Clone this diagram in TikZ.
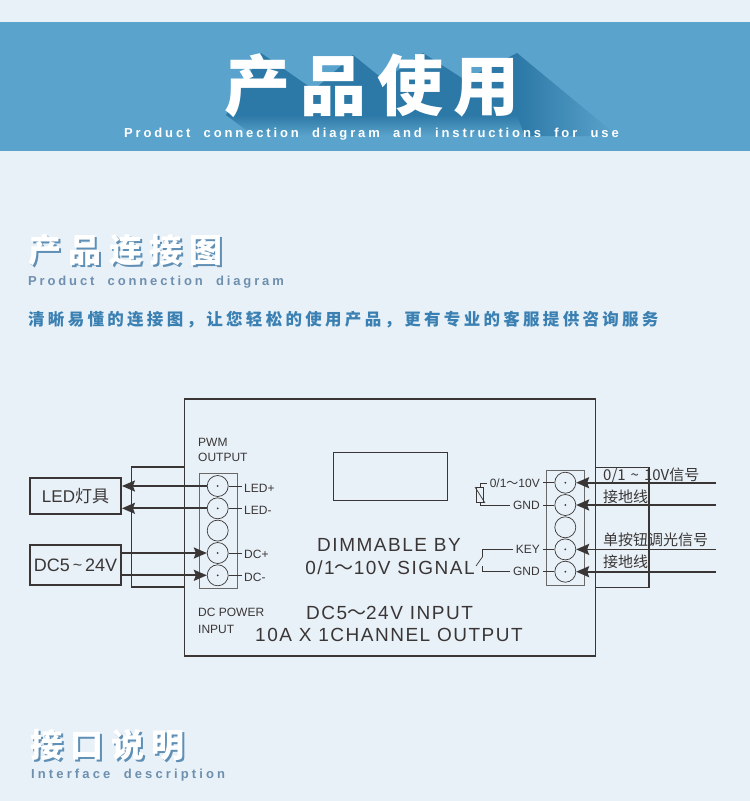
\documentclass[tikz,border=0pt]{standalone}
\usepackage{fontspec}
\setmainfont{Liberation Sans}
\newfontfamily\cjk{Noto Sans CJK SC}
\newfontfamily\spaced[LetterSpace=22,WordSpace=2.05]{Liberation Sans}
\newfontfamily\spacedwide[LetterSpace=24,WordSpace=2]{Liberation Sans}
\usetikzlibrary{arrows.meta}
\definecolor{pagebg}{HTML}{E8F1F8}
\definecolor{bandblue}{HTML}{5AA3CC}
\definecolor{shadeblue}{HTML}{2C78A6}
\definecolor{headshadow}{HTML}{5F8FB5}
\definecolor{greyblue}{HTML}{6E8FAE}
\definecolor{lineblue}{HTML}{3A80B2}
\definecolor{ink}{HTML}{3A3636}
\newcommand{\sz}[1]{\fontsize{#1}{#1}\selectfont}
\tikzset{
  frame/.style={draw=ink,line width=1.9pt,inner sep=0pt},
  block/.style={draw=ink!75,line width=0.9pt,inner sep=0pt},
  term/.style={draw=ink,line width=0.7pt,circle,inner sep=0pt,minimum size=21pt},
  wire/.style={draw=ink,line width=1.7pt,->},
  lead/.style={draw=ink,line width=0.7pt},
  small/.style={text=ink,inner sep=2.5pt,font=\sz{12}},
  big/.style={text=ink,inner sep=0pt,font=\sz{19}\addfontfeature{LetterSpace=8}},
  sign/.style={text=ink,inner sep=0pt,font=\cjk\sz{15}},
  head/.style={inner sep=0pt,anchor=west,font=\cjk\bfseries\sz{33}\addfontfeature{LetterSpace=22}},
  sub/.style={inner sep=0pt,anchor=west,text=greyblue,font=\spaced\bfseries\sz{13}},
}
\begin{document}
\begin{tikzpicture}[x=1pt,y=-1pt,>={Stealth[length=13pt,width=11pt,inset=2pt]}]

    % Fondo y banda
    \useasboundingbox (0,0) rectangle (750,801);
    \fill[pagebg] (0,0) rectangle (750,801);
    \fill[bandblue] (0,22) rectangle (750,151);

    % Sombra larga del titulo
    \fill[shadeblue] (226,115) -- (261,53) -- (314,90) -- (353,55) -- (384,80) -- (423,53) -- (465,80) -- (517,53) -- (525,115) -- cycle;
    \shade[top color=shadeblue,bottom color=bandblue] (226,115) -- (525,115) -- (525,136) -- (254,136) -- cycle;
    \shade[left color=shadeblue,right color=bandblue] (517,53) -- (609,129) -- (615,136) -- (525,136) -- (517,115) -- cycle;

    % Titulo
    \node[inner sep=0pt,anchor=west,text=white,font=\cjk\bfseries\sz{66}\addfontfeature{LetterSpace=16}] (title) at (224,86) {产品使用};
    \node[inner sep=0pt,anchor=west,text=white,font=\spaced\bfseries\sz{13}] (subtitle) at (124,134.5) {Product connection diagram and instructions for use};

    % Encabezados
    \node[head,text=headshadow] (connshadow) at (30.5,252) {产品连接图};
    \node[head,text=white] (connhead) at (28.5,250) {产品连接图};
    \node[sub] (connsub) at (28,282.5) {Product connection diagram};
    \node[inner sep=0pt,anchor=west,text=lineblue,font=\cjk\bfseries\sz{16.5}\addfontfeature{LetterSpace=20}] (connline) at (28,320) {清晰易懂的连接图，让您轻松的使用产品，更有专业的客服提供咨询服务};
    \node[head,text=headshadow] (ifshadow) at (32.5,747) {接口说明};
    \node[head,text=white] (ifhead) at (30.5,745) {接口说明};
    \node[sub,font=\spacedwide\bfseries\sz{13}] (ifsub) at (31,775.5) {Interface description};

    % Caja principal y pantalla
    \node[frame,minimum width=411pt,minimum height=257pt] (mainbox) at (390,527.5) {};
    \node[block,draw=ink,line width=0.8pt,minimum width=114pt,minimum height=48pt] (display) at (390,476) {};

    % Bornes izquierdos
    \node[block,minimum width=38pt,minimum height=115pt] (leftblock) at (218,530.5) {};
    \node[term] (L1) at (217.7,486) {};
    \node[term] (L2) at (217.7,508.3) {};
    \node[term] (L3) at (217.7,530.6) {};
    \node[term] (L4) at (217.7,553) {};
    \node[term] (L5) at (217.7,575.3) {};

    % Bornes derechos
    \node[block,minimum width=38pt,minimum height=115pt] (rightblock) at (565.5,527.5) {};
    \node[term] (R1) at (565.3,482.7) {};
    \node[term] (R2) at (565.3,505) {};
    \node[term] (R3) at (565.3,527.3) {};
    \node[term] (R4) at (565.3,549.4) {};
    \node[term] (R5) at (565.3,571.7) {};

    % Puntos centrales
    \fill[ink] (L1) circle (1pt);
    \fill[ink] (L2) circle (1pt);
    \fill[ink] (L4) circle (1pt);
    \fill[ink] (L5) circle (1pt);
    \fill[ink] (R1) circle (1pt);
    \fill[ink] (R2) circle (1pt);
    \fill[ink] (R4) circle (1pt);
    \fill[ink] (R5) circle (1pt);

    % Cajas externas
    \node[frame,minimum width=91pt,minimum height=36pt,font=\sz{17}\color{ink}] (ledbox) at (75.5,496) {LED\cjk 灯具};
    \node[frame,minimum width=91pt,minimum height=40pt,font=\sz{18}\color{ink}] (dcbox) at (75.5,565) {DC5\,\raisebox{1pt}{\sz{16}\textasciitilde}\,24V};

    % Corchetes
    \coordinate (lefttop) at (mainbox.west |- 0,467);
    \coordinate (leftbot) at (mainbox.west |- 0,587);
    \coordinate (righttop) at (mainbox.east |- 0,467.3);
    \coordinate (rightbot) at (mainbox.east |- 0,587.3);
    \draw[ink,line width=1.6pt] (lefttop) -- (131.5,467) -- (131.5,587) -- (leftbot);
    \draw[ink,line width=1.6pt] (righttop) -- (649,467.3) -- (649,587.3) -- (rightbot);

    % Etiquetas
    \node[small,anchor=west] (ledplus) at (241.5,488) {LED+};
    \node[small,anchor=west] (ledminus) at (241.5,510) {LED-};
    \node[small,anchor=west] (dcplus) at (241.5,554) {DC+};
    \node[small,anchor=west] (dcminus) at (241.5,577) {DC-};
    \node[small,anchor=east] (sigin) at (542.5,483) {0/1{\cjk ～}10V};
    \node[small,anchor=east] (gndone) at (542.5,505) {GND};
    \node[small,anchor=east] (keyin) at (542.5,549.4) {KEY};
    \node[small,anchor=east] (gndtwo) at (542.5,571.7) {GND};
    \node[small,anchor=west,inner sep=0pt] (pwmone) at (198,442) {PWM};
    \node[small,anchor=west,inner sep=0pt] (pwmtwo) at (198,457) {OUTPUT};
    \node[small,anchor=west,inner sep=0pt] (dcpone) at (198,612.5) {DC POWER};
    \node[small,anchor=west,inner sep=0pt] (dcptwo) at (198,629) {INPUT};

    % Texto central
    \node[big] (dimone) at (389,545) {DIMMABLE BY};
    \node[big] (dimtwo) at (390,568) {0/1{\cjk ～}10V  SIGNAL};
    \node[big] (specone) at (389.5,613) {DC5{\cjk ～}24V  INPUT};
    \node[big] (spectwo) at (389,635) {10A X 1CHANNEL OUTPUT};

    % Textos de la derecha
    \node[sign,anchor=west] (rtone) at (603,476) {0/1\,\,\raisebox{0pt}{\sz{15}\textasciitilde}\,\,10V信号};
    \node[sign,anchor=west] (rttwo) at (603,497) {接地线};
    \node[sign,anchor=west] (rtthree) at (603,540) {单按钮调光信号};
    \node[sign,anchor=west] (rtfour) at (603,562) {接地线};

    % Hilos de los bornes
    \draw[lead] (L1.east) -- (L1.east -| ledplus.west);
    \draw[lead] (L2.east) -- (L2.east -| ledminus.west);
    \draw[lead] (L4.east) -- (L4.east -| dcplus.west);
    \draw[lead] (L5.east) -- (L5.east -| dcminus.west);
    \draw[lead] (R1.west) -- (R1.west -| sigin.east);
    \draw[lead] (R2.west) -- (R2.west -| gndone.east);
    \draw[lead] (R4.west) -- (R4.west -| keyin.east);
    \draw[lead] (R5.west) -- (R5.west -| gndtwo.east);

    % Potenciometro
    \node[block,draw=ink,line width=0.7pt,minimum width=7pt,minimum height=15pt] (pot) at (480.2,495.2) {};
    \draw[lead] (pot.north) |- (sigin.west);
    \draw[lead] (pot.south) |- (gndone.west);
    \draw[lead] (475,487) -- (485,503);

    % Interruptor
    \coordinate (swtop) at (482.7,556.5);
    \coordinate (swbot) at (482.7,566);
    \draw[lead] (keyin.west) -| (swtop);
    \draw[lead] (gndtwo.west) -| (swbot);
    \draw[lead] (swtop) -- (476,566);

    % Flechas
    \draw[wire] (L1.west) -- (L1.west -| ledbox.east);
    \draw[wire] (L2.west) -- (L2.west -| ledbox.east);
    \draw[wire] (L4.west -| dcbox.east) -- (L4.west);
    \draw[wire] (L5.west -| dcbox.east) -- (L5.west);

    \coordinate (inone) at (716,482.7);
    \coordinate (intwo) at (716,505);
    \coordinate (inthree) at (716,549.4);
    \coordinate (infour) at (716,571.7);
    \draw[wire] (inone) -- (R1.east);
    \draw[wire] (intwo) -- (R2.east);
    \draw[wire] (inthree) -- (R4.east);
    \draw[wire] (infour) -- (R5.east);

\end{tikzpicture}
\end{document}
